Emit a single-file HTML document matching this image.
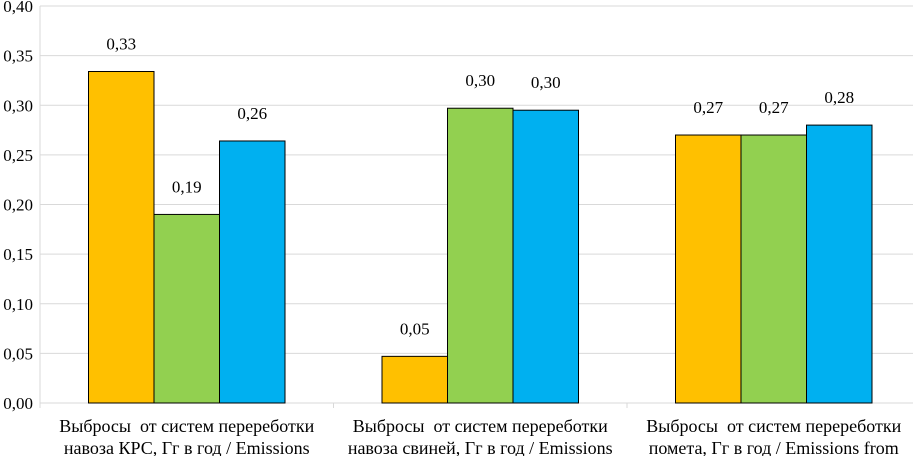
<!DOCTYPE html>
<html><head><meta charset="utf-8"><style>
html,body{margin:0;padding:0;background:#fff;}
svg{display:block;}
text{font-family:"Liberation Serif","Times New Roman","Noto Serif CJK SC","DejaVu Serif",serif;}
</style></head><body>
<svg id="chart" width="913" height="456" viewBox="0 0 913 456" xmlns="http://www.w3.org/2000/svg"></svg>
<script>
const categories = [
  ["Выбросы  от систем перереботки","навоза КРС, Гг в год / Emissions"],
  ["Выбросы  от систем перереботки","навоза свиней, Гг в год / Emissions"],
  ["Выбросы  от систем перереботки","помета, Гг в год / Emissions from"]
];
const seriesA = [0.334, 0.047, 0.270];
const seriesB = [0.190, 0.297, 0.270];
const seriesC = [0.264, 0.295, 0.280];
const labelsA = ["0,33","0,05","0,27"];
const labelsB = ["0,19","0,30","0,27"];
const labelsC = ["0,26","0,30","0,28"];
const yTicks = [0,0.05,0.10,0.15,0.20,0.25,0.30,0.35,0.40];
const yTickLabels = ["0,00","0,05","0,10","0,15","0,20","0,25","0,30","0,35","0,40"];

const svg = document.getElementById('chart');
const NS = "http://www.w3.org/2000/svg";
const FONT = '"Liberation Serif", "Times New Roman", "Noto Serif CJK SC", "DejaVu Serif", serif';
const left = 40, right = 913, y0 = 403, y1 = 6, yMax = 0.40;
const catW = 293.5;
const barW = 65.5;
const y = v => y0 - (v/yMax)*(y0-y1);
function mk(tag, attrs, parent){const e=document.createElementNS(NS,tag);for(const k in attrs)e.setAttribute(k,attrs[k]);if(tag==='text')e.style.fontFamily=FONT;(parent||svg).appendChild(e);return e;}

yTicks.forEach((t,i)=>{
  const g = mk('line',{x1:left,x2:right,y1:y(t),y2:y(t),stroke:'#d9d9d9','stroke-width':1});
  
  
  const tx = mk('text',{x:left-7,y:y(t)+6,'text-anchor':'end','font-size':17,fill:'#000'});
  tx.textContent = yTickLabels[i];
  
  
});
const ax = mk('line',{x1:left,x2:left,y1:y1,y2:y0+5,stroke:'#d9d9d9'});


for(let i=0;i<=categories.length;i++){
  const tk = mk('line',{x1:left+i*catW,x2:left+i*catW,y1:y0,y2:y0+5,stroke:'#d9d9d9'});
  
  
}
const series = [[seriesA,labelsA,'#ffc000'],[seriesB,labelsB,'#92d050'],[seriesC,labelsC,'#00b0f0']];
categories.forEach((c,i)=>{
  const cx = left + catW*(i+0.5);
  series.forEach((s,j)=>{
    const v = s[0][i];
    const bx = cx - 1.5*barW + j*barW;
    const r = mk('rect',{x:bx,y:y(v),width:barW,height:y0-y(v),fill:s[2],stroke:'#000','stroke-width':1});
    
    
    const lb = mk('text',{x:bx+barW/2,y:y(v)-22,'text-anchor':'middle','font-size':17,fill:'#000'});
    lb.textContent = s[1][i];
    
    
  });
  c.forEach((line,k)=>{
    const t = mk('text',{x:cx,y:432+k*22,'text-anchor':'middle','font-size':18,fill:'#000'});
    t.textContent = line;
    t.style.whiteSpace='pre';
    
    
  });
});
</script>
</body></html>
